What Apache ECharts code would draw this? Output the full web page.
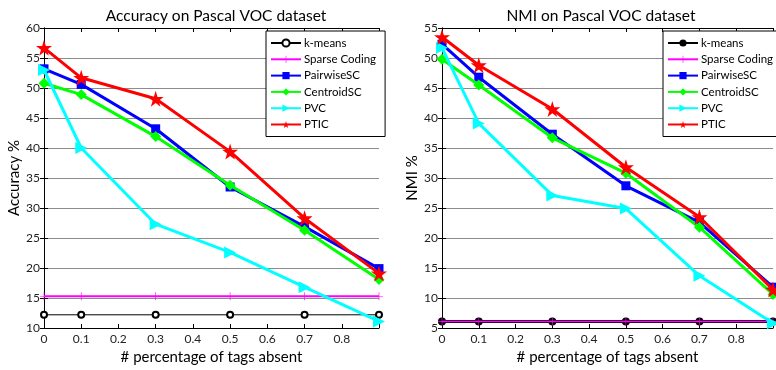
<!DOCTYPE html>
<html>
<head>
<meta charset="utf-8">
<script src="https://cdn.jsdelivr.net/npm/echarts@6/dist/echarts.min.js"></script>
<style>
  html, body { margin: 0; padding: 0; background: #fff; }
  #chart { width: 776px; height: 370px; }
</style>
</head>
<body>
<div id="chart"></div>
<script>
// tag-absent ratios (x axis)
const ratios = [0, 0.1, 0.3, 0.5, 0.7, 0.9];
const seriesNames = ['k-means', 'Sparse Coding', 'PairwiseSC', 'CentroidSC', 'PVC', 'PTIC'];

// Accuracy % on Pascal VOC
const accKmeans   = [12.2, 12.2, 12.2, 12.2, 12.2, 12.2];
const accSparse   = [15.3, 15.3, 15.3, 15.3, 15.3, 15.3];
const accPairwise = [53.2, 50.6, 43.2, 33.5, 26.9, 19.9];
const accCentroid = [50.8, 48.9, 41.9, 33.8, 26.3, 18.1];
const accPVC      = [53.0, 40.0, 27.3, 22.6, 16.8, 11.1];
const accPTIC     = [56.7, 51.7, 48.2, 39.4, 28.3, 19.1];

// NMI % on Pascal VOC
const nmiKmeans   = [6.1, 6.1, 6.1, 6.1, 6.1, 6.1];
const nmiSparse   = [6.1, 6.1, 6.1, 6.1, 6.1, 6.1];
const nmiPairwise = [52.3, 46.8, 37.3, 28.7, 22.6, 11.8];
const nmiCentroid = [49.8, 45.5, 36.7, 30.8, 21.8, 10.6];
const nmiPVC      = [51.7, 39.1, 27.1, 24.9, 13.7, 5.8];
const nmiPTIC     = [53.5, 48.8, 41.5, 31.8, 23.5, 11.4];

const FONT = 'Lato';
const STAR = 'path://M50,0 L61,35 L98,35 L68,57 L79,91 L50,70 L21,91 L32,57 L2,35 L39,35 Z';
const PLUS = 'path://M46,0 L54,0 L54,46 L100,46 L100,54 L54,54 L54,100 L46,100 L46,54 L0,54 L0,46 L46,46 Z';

const pairs = (vals) => vals.map((v, i) => [ratios[i], v]);

function styles(right) {
  return [
    { symbol: right ? 'circle' : 'emptyCircle', symbolSize: right ? 8 : 6, color: '#000000', width: right ? 3 : 1 },
    { symbol: PLUS, symbolSize: 8, color: '#FF00FF', width: right ? 1.5 : 2 },
    { symbol: 'rect', symbolSize: 9, color: '#0000FF', width: 3 },
    { symbol: 'diamond', symbolSize: 11, color: '#00FF00', width: 3 },
    { symbol: 'triangle', symbolSize: 12, color: '#00FFFF', width: 3, rotate: -90 },
    { symbol: STAR, symbolSize: 16, color: '#FF0000', width: 3 }
  ];
}

// right-hand chart gets its own (visually identical) names so each legend keeps its own look
const nameFor = (i, right) => seriesNames[i] + (right ? ' ' : '');

function makeSeries(idx, sets, right) {
  const st = styles(right);
  return sets.map((vals, i) => ({
    name: nameFor(i, right),
    type: 'line',
    xAxisIndex: idx * 2,
    yAxisIndex: idx * 2,
    data: pairs(vals),
    symbol: st[i].symbol,
    symbolSize: st[i].symbolSize,
    symbolRotate: st[i].rotate || 0,
    showAllSymbol: true,
    animation: false,
    z: 3 + i,
    lineStyle: { color: st[i].color, width: st[i].width },
    itemStyle: { color: st[i].color, borderWidth: st[i].symbol === 'emptyCircle' ? 1.3 : 0 }
  }));
}

const grids = [
  { left: 44, right: 397, top: 28, bottom: 32 },
  { left: 442, right: 1, top: 28, bottom: 32 }
];

function axesFor(gi, yMin, yMax, yName) {
  const tick = { show: true, inside: true, length: 4, lineStyle: { color: '#000' } };
  const line = { show: true, lineStyle: { color: '#000', width: 1 } };
  const xs = [
    {
      type: 'value', gridIndex: gi, min: 0, max: 0.9, interval: 0.1, position: 'bottom',
      axisLine: line, axisTick: tick, splitLine: { show: false },
      axisLabel: { color: '#222', fontFamily: FONT, fontSize: 12, margin: 5,
        formatter: (v) => (v > 0.85 ? '' : String(Math.round(v * 10) / 10)) },
      name: '# percentage of tags absent', nameLocation: 'middle', nameGap: 22,
      nameTextStyle: { color: '#000', fontFamily: FONT, fontSize: 15 }
    },
    {
      type: 'value', gridIndex: gi, min: 0, max: 0.9, interval: 0.1, position: 'top',
      axisLine: line, axisTick: tick, axisLabel: { show: false }, splitLine: { show: false }
    }
  ];
  const ys = [
    {
      type: 'value', gridIndex: gi, min: yMin, max: yMax, interval: 5, position: 'left',
      axisLine: line, axisTick: tick,
      splitLine: { show: true, lineStyle: { color: '#8c8c8c', width: 1 } },
      axisLabel: { color: '#222', fontFamily: FONT, fontSize: 12, margin: 4 },
      name: yName, nameLocation: 'middle', nameGap: 22,
      nameTextStyle: { color: '#000', fontFamily: FONT, fontSize: 15 }
    },
    {
      type: 'value', gridIndex: gi, min: yMin, max: yMax, interval: 5, position: 'right',
      axisLine: line, axisTick: tick, axisLabel: { show: false }, splitLine: { show: false }
    }
  ];
  return { xs, ys };
}

const a0 = axesFor(0, 10, 60, 'Accuracy %');
const a1 = axesFor(1, 5, 55, 'NMI %');

function legendFor(left, right) {
  return {
    orient: 'vertical',
    left: left, top: 31,
    padding: [6, right ? 4 : 9, 6, 4],
    itemGap: 4.3,
    itemWidth: 30, itemHeight: 9,
    backgroundColor: '#ffffff',
    borderColor: '#000', borderWidth: 1,
    textStyle: { color: '#000', fontFamily: FONT, fontSize: 11.5, lineHeight: 12, padding: [0, 0, 0, -2] },
    data: seriesNames.map((n, i) => nameFor(i, right))
  };
}

const chart = echarts.init(document.getElementById('chart'), null, { renderer: 'canvas' });
chart.setOption({
  backgroundColor: '#ffffff',
  animation: false,
  title: [
    { text: 'Accuracy on Pascal VOC dataset', left: 211, top: 3, textAlign: 'center',
      textStyle: { fontFamily: FONT, fontSize: 15.5, fontWeight: 'normal', color: '#000' } },
    { text: 'NMI on Pascal VOC dataset', left: 596, top: 3, textAlign: 'center',
      textStyle: { fontFamily: FONT, fontSize: 15.5, fontWeight: 'normal', color: '#000' } }
  ],
  legend: [legendFor(266, false), legendFor(663, true)],
  grid: grids,
  xAxis: a0.xs.concat(a1.xs),
  yAxis: a0.ys.concat(a1.ys),
  series: makeSeries(0, [accKmeans, accSparse, accPairwise, accCentroid, accPVC, accPTIC], false)
    .concat(makeSeries(1, [nmiKmeans, nmiSparse, nmiPairwise, nmiCentroid, nmiPVC, nmiPTIC], true))
});
</script>
</body>
</html>
